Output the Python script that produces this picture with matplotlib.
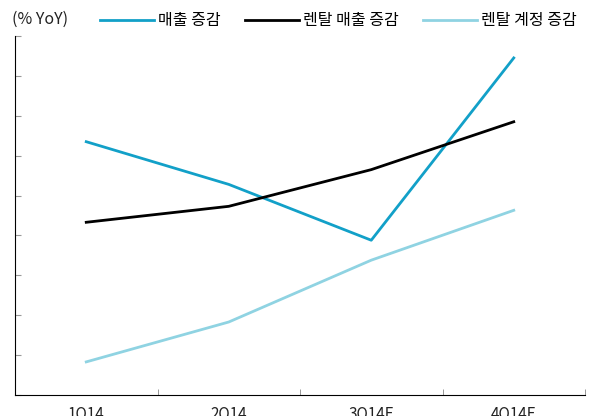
import matplotlib
matplotlib.use('Agg')
from matplotlib import pyplot as plt
from matplotlib.ticker import FixedLocator, NullFormatter

plt.rcParams['font.family'] = ['Noto Sans CJK KR', 'DejaVu Sans']

# data
quarters = ['1Q14', '2Q14', '3Q14E', '4Q14E']
sales_growth = [6.35, 5.28, 3.88, 8.45]
rental_sales_growth = [4.33, 4.73, 5.65, 6.85]
rental_account_growth = [0.83, 1.83, 3.38, 4.63]
series_names = ['매출 증감', '렌탈 매출 증감', '렌탈 계정 증감']

fig = plt.figure(figsize=(5.91, 4.16), dpi=100)
ax = fig.add_axes([15 / 591, 21 / 416, 570 / 591, 359 / 416])

x = range(len(quarters))
ax.plot(x, sales_growth, color='#12a0c8', lw=2, label=series_names[0])
ax.plot(x, rental_sales_growth, color='black', lw=2, label=series_names[1])
ax.plot(x, rental_account_growth, color='#8fd3e2', lw=2, label=series_names[2])

ax.set_xlim(-0.5, 3.5)
ax.set_ylim(0, 9)
ax.spines['top'].set_visible(False)
ax.spines['right'].set_visible(False)

ax.set_xticks(list(x))
ax.set_xticklabels(quarters, fontsize=11, color='#222222')
ax.tick_params(axis='x', which='major', length=0, pad=8)
ax.xaxis.set_minor_locator(FixedLocator([-0.5, 0.5, 1.5, 2.5, 3.5]))
ax.xaxis.set_minor_formatter(NullFormatter())
ax.tick_params(axis='x', which='minor', direction='in', length=4, color='#888888')

ax.set_yticks(range(10))
ax.set_yticklabels([])
ax.tick_params(axis='y', direction='in', length=4, color='#999999')

fig.text(12 / 591, 1 - 19 / 416, '(% YoY)', fontsize=11.5, va='center', color='#222222')
fig.legend(loc='center right', bbox_to_anchor=(1.0, 1 - 21 / 416), ncol=3,
           frameon=False, fontsize=11.5, handlelength=3.4, handletextpad=0.25,
           columnspacing=1.5, borderaxespad=0.5)

plt.savefig('out.png', dpi=100)
